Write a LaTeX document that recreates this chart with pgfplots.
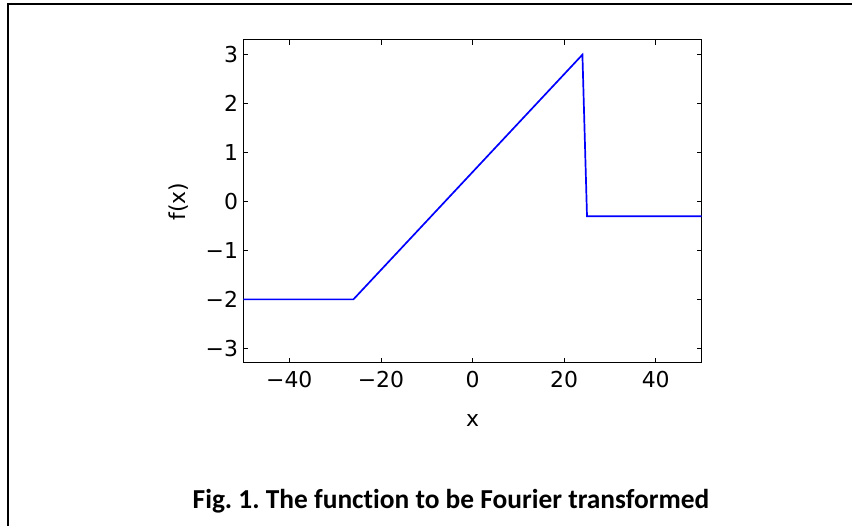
\documentclass[border=0pt]{standalone}
\usepackage{pgfplots}
\pgfplotsset{compat=1.18}
\usepackage{fontspec}
\setmainfont{DejaVu Sans}
\newfontfamily\capfont[Ligatures=NoCommon]{Carlito}
\begin{document}
\frenchspacing
\begin{tikzpicture}[x=1bp,y=1bp]
\useasboundingbox (-243.5,-163) rectangle (608.5,363);
\draw[line width=2bp,black] (-235,-170) -- (-235,358.5) -- (620,358.5);
\begin{axis}[
  at={(0,0)}, anchor=south west,
  scale only axis, width=458bp, height=323bp,
  xmin=-50, xmax=50, ymin=-3.3, ymax=3.3,
  xtick={-40,-20,0,20,40},
  xticklabels={−40,−20,0,20,40},
  ytick={-3,-2,-1,0,1,2,3},
  yticklabels={−3,−2,−1,0,1,2,3},
  tick align=inside, major tick length=5bp,
  tick style={black, line width=0.8bp},
  axis line style={black, line width=1bp},
  ticklabel style={font=\fontsize{22}{24}\selectfont},
  xticklabel style={yshift=-5bp},
  yticklabel style={xshift=-2bp},
  xlabel={x}, ylabel={f(x)},
  label style={font=\fontsize{22}{24}\selectfont},
  xlabel style={yshift=-20bp},
  ylabel style={yshift=10bp},
  clip=true,
]
\addplot[blue, line width=1.7bp, line join=miter] coordinates {
  (-50,-2) (-26,-2) (24,3) (25,-0.3) (50,-0.3)
};
\end{axis}
\node[anchor=base, font=\capfont\bfseries\fontsize{27.5}{30}\selectfont] at (207.5,-146) {Fig. 1. The function to be Fourier transformed};
\end{tikzpicture}
\end{document}
